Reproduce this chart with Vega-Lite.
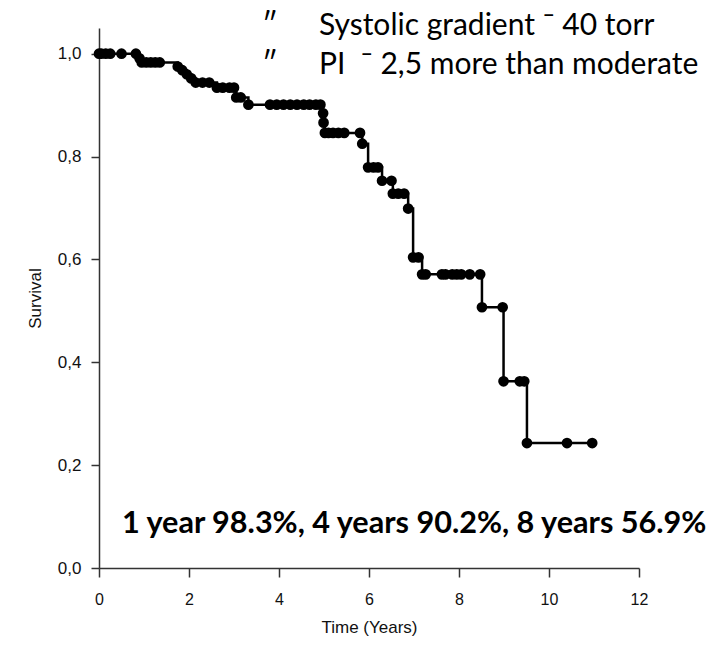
{
  "$schema": "https://vega.github.io/schema/vega-lite/v6.json",
  "width": 540,
  "height": 540,
  "autosize": {"type": "none"},
  "padding": {"left": 99, "top": 28, "right": 70, "bottom": 78},
  "background": "white",
  "config": {"view": {"stroke": null}, "axis": {"grid": false}},
  "datasets": {
    "km": [
      {"t": 0, "s": 1.0}, {"t": 0.05, "s": 1.0}, {"t": 0.15, "s": 1.0}, {"t": 0.25, "s": 1.0}, {"t": 0.5, "s": 1.0}, {"t": 0.82, "s": 1.0},
      {"t": 0.9, "s": 0.991}, {"t": 0.95, "s": 0.983}, {"t": 1.05, "s": 0.983}, {"t": 1.15, "s": 0.983}, {"t": 1.25, "s": 0.983}, {"t": 1.35, "s": 0.983},
      {"t": 1.75, "s": 0.975}, {"t": 1.85, "s": 0.968}, {"t": 1.95, "s": 0.96}, {"t": 2.05, "s": 0.952}, {"t": 2.15, "s": 0.944}, {"t": 2.3, "s": 0.944}, {"t": 2.45, "s": 0.944},
      {"t": 2.62, "s": 0.934}, {"t": 2.75, "s": 0.934}, {"t": 2.9, "s": 0.934}, {"t": 3.0, "s": 0.934},
      {"t": 3.05, "s": 0.915}, {"t": 3.15, "s": 0.915}, {"t": 3.32, "s": 0.901},
      {"t": 3.8, "s": 0.901}, {"t": 3.95, "s": 0.901}, {"t": 4.1, "s": 0.901}, {"t": 4.25, "s": 0.901}, {"t": 4.4, "s": 0.901}, {"t": 4.55, "s": 0.901}, {"t": 4.68, "s": 0.901}, {"t": 4.82, "s": 0.901}, {"t": 4.92, "s": 0.901},
      {"t": 4.98, "s": 0.884}, {"t": 4.99, "s": 0.866}, {"t": 5.02, "s": 0.846},
      {"t": 5.1, "s": 0.846}, {"t": 5.2, "s": 0.846}, {"t": 5.32, "s": 0.846}, {"t": 5.45, "s": 0.846}, {"t": 5.8, "s": 0.846},
      {"t": 5.85, "s": 0.825},
      {"t": 5.98, "s": 0.779}, {"t": 6.1, "s": 0.779}, {"t": 6.2, "s": 0.779},
      {"t": 6.29, "s": 0.753}, {"t": 6.5, "s": 0.753},
      {"t": 6.53, "s": 0.728}, {"t": 6.65, "s": 0.728}, {"t": 6.78, "s": 0.728},
      {"t": 6.87, "s": 0.699},
      {"t": 6.98, "s": 0.604}, {"t": 7.1, "s": 0.604},
      {"t": 7.18, "s": 0.571}, {"t": 7.26, "s": 0.571}, {"t": 7.62, "s": 0.571}, {"t": 7.7, "s": 0.571}, {"t": 7.85, "s": 0.571}, {"t": 7.95, "s": 0.571}, {"t": 8.05, "s": 0.571}, {"t": 8.24, "s": 0.571}, {"t": 8.47, "s": 0.571},
      {"t": 8.51, "s": 0.507}, {"t": 8.97, "s": 0.507},
      {"t": 8.99, "s": 0.363}, {"t": 9.35, "s": 0.363}, {"t": 9.45, "s": 0.363},
      {"t": 9.51, "s": 0.243}, {"t": 10.4, "s": 0.243}, {"t": 10.96, "s": 0.243}
    ]
  },
  "encoding": {
    "x": {
      "field": "t", "type": "quantitative",
      "scale": {"domain": [0, 12], "nice": false, "zero": false},
      "axis": {
        "values": [0, 2, 4, 6, 8, 10, 12],
        "title": "Time (Years)",
        "labelFont": "Liberation Sans", "labelFontSize": 16, "labelColor": "#111",
        "titleFont": "Liberation Sans", "titleFontSize": 17, "titleFontWeight": "normal", "titleColor": "#111",
        "domainColor": "#333", "domainWidth": 1.5, "tickColor": "#333", "tickWidth": 1.5, "tickSize": 9,
        "labelPadding": 14, "titlePadding": 12, "labelFlush": false
      }
    },
    "y": {
      "field": "s", "type": "quantitative",
      "scale": {"domain": [0, 1.05], "nice": false, "zero": false},
      "axis": {
        "values": [0, 0.2, 0.4, 0.6, 0.8, 1.0],
        "labelExpr": "replace(format(datum.value, '.1f'), '.', ',')",
        "title": "Survival",
        "labelFont": "Liberation Sans", "labelFontSize": 17, "labelColor": "#111",
        "titleFont": "Liberation Sans", "titleFontSize": 17, "titleFontWeight": "normal", "titleColor": "#111",
        "domainColor": "#333", "domainWidth": 1.5, "tickColor": "#333", "tickWidth": 1.5, "tickSize": 8,
        "labelPadding": 10, "titlePadding": 13, "labelFlush": false
      }
    }
  },
  "layer": [
    {
      "data": {"name": "km"},
      "mark": {"type": "line", "interpolate": "step-after", "color": "black", "strokeWidth": 2.5}
    },
    {
      "data": {"name": "km"},
      "mark": {"type": "point", "filled": true, "color": "black", "size": 115, "opacity": 1}
    },
    {
      "data": {"values": [
        {"t": 3.62, "s": 1.037, "label": "″"},
        {"t": 4.889, "s": 1.037, "label": "Systolic gradient ¯ 40 torr"},
        {"t": 3.62, "s": 0.961, "label": "″"},
        {"t": 4.889, "s": 0.961, "label": "PI\u00a0\u00a0¯ 2,5 more than moderate"}
      ]},
      "mark": {"type": "text", "align": "left", "baseline": "alphabetic", "font": "Lato", "fontSize": 30, "color": "black"},
      "encoding": {"text": {"field": "label"}}
    },
    {
      "data": {"values": [
        {"t": 0.511, "s": 0.068, "label": "1 year 98.3%, 4 years 90.2%, 8 years 56.9%"}
      ]},
      "mark": {"type": "text", "align": "left", "baseline": "alphabetic", "font": "Lato", "fontSize": 30.6, "fontWeight": "bold", "color": "black"},
      "encoding": {"text": {"field": "label"}}
    }
  ]
}
